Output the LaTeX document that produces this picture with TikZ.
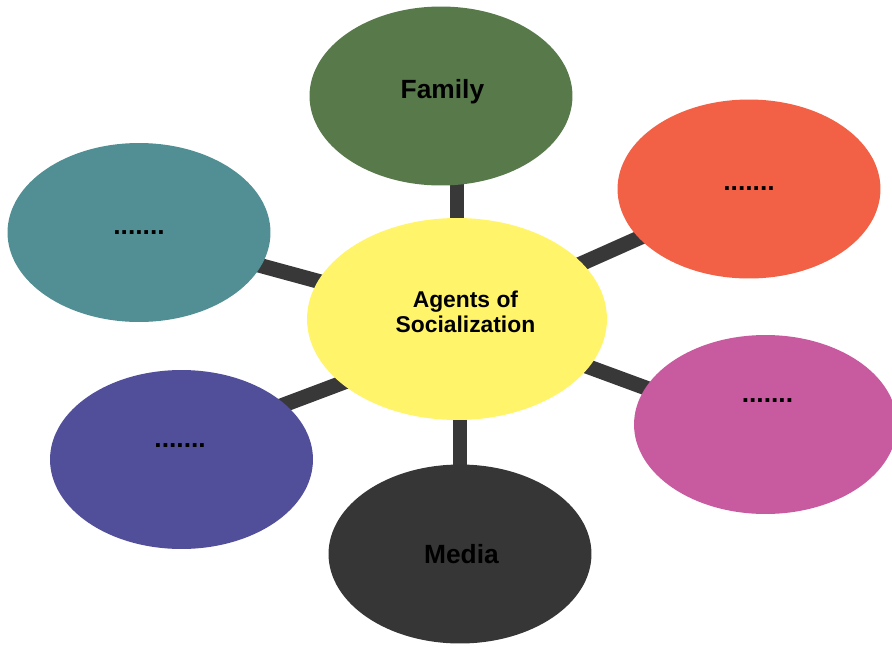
\documentclass[tikz,border=0pt]{standalone}
\usepackage{fontspec}
\setmainfont{Liberation Sans}
\usetikzlibrary{shapes.geometric}
\usetikzlibrary{backgrounds}

\definecolor{hubyellow}{HTML}{FFF46A}
\definecolor{famgreen}{HTML}{587A4A}
\definecolor{upright}{HTML}{F26045}
\definecolor{upleft}{HTML}{528F94}
\definecolor{lowleft}{HTML}{524F9A}
\definecolor{lowright}{HTML}{C85AA0}
\definecolor{mediagray}{HTML}{363636}
\definecolor{linkgray}{HTML}{383838}

\begin{document}
\begin{tikzpicture}[x=0.02cm,y=-0.02cm,
  bubble/.style={ellipse,inner sep=0pt,minimum width=5.26cm,minimum height=3.58cm},
  word/.style={font=\fontsize{15}{18}\selectfont\bfseries},
  link/.style={line width=8.5pt,color=linkgray}]
  \useasboundingbox (0,0) rectangle (892,646);

  \node[bubble,fill=hubyellow,minimum width=6cm,minimum height=4.04cm] (hub) at (457,319)
    [label={[xshift=4.8pt,yshift=4pt,align=center,font=\fontsize{13}{14}\selectfont\bfseries]center:Agents of\\Socialization}]{};
  \node[bubble,fill=famgreen] (family) at (441,96)[label={[word,xshift=0.8pt,yshift=2.4pt]center:Family}]{};
  \node[bubble,fill=upright] (upright) at (749,189)[label={[word,yshift=0.5pt]center:.......}]{};
  \node[bubble,fill=upleft] (upleft) at (139,232.5)[label={[word]center:.......}]{};
  \node[bubble,fill=lowleft] (lowleft) at (181.5,459.5)[label={[word,xshift=-0.8pt,yshift=7.7pt]center:.......}]{};
  \node[bubble,fill=lowright] (lowright) at (765.5,424.5)[label={[word,xshift=1.1pt,yshift=13.4pt]center:.......}]{};
  \node[bubble,fill=mediagray] (media) at (460,554)[label={[word,xshift=0.8pt]center:Media}]{};

  \begin{scope}[on background layer]
    \draw[link] (hub.center) -- (hub.center |- family.center);
    \draw[link] (hub.center) -- (upright.center);
    \draw[link] (hub.center) -- (upleft.center);
    \draw[link] (media.center |- hub.center) -- (media.center);
    \draw[link,shorten <=-6pt,shorten >=-6pt] (hub.209) -- (lowleft.28);
    \draw[link,shorten <=-6pt,shorten >=-6pt] (hub.340) -- (lowright.163);
  \end{scope}
\end{tikzpicture}
\end{document}
